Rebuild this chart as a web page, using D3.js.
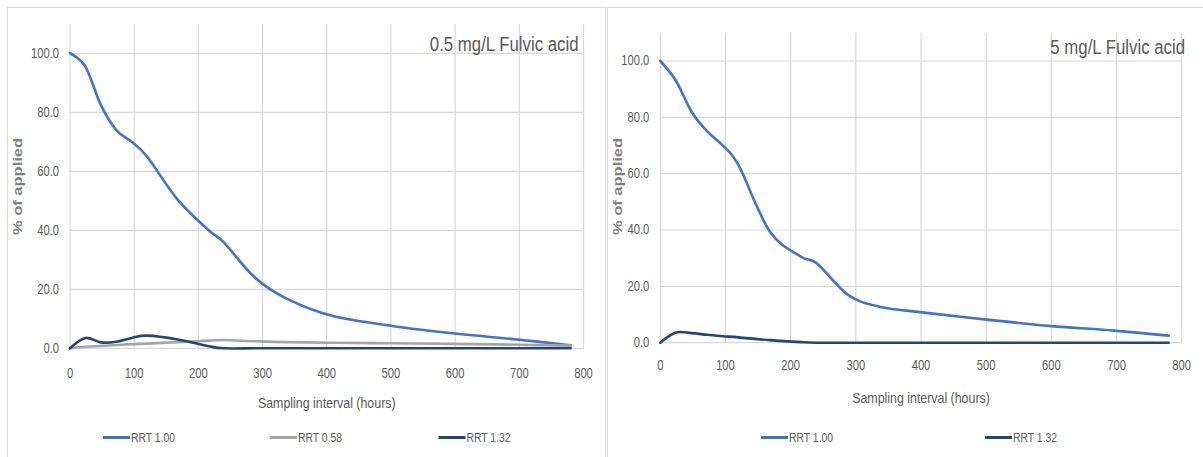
<!DOCTYPE html>
<html>
<head>
<meta charset="utf-8">
<script src="https://cdn.jsdelivr.net/npm/d3@7"></script>
<style>
  html, body { margin: 0; padding: 0; background: #fff; }
  svg { display: block; }
  .tick-label { font-family: "Liberation Sans", Arial, sans-serif; font-size: 14px; fill: #595959; }
  .axis-title { font-family: "Liberation Sans", Arial, sans-serif; font-size: 15.5px; fill: #595959; }
  .legend-label { font-family: "Liberation Sans", Arial, sans-serif; font-size: 13px; fill: #595959; }
  .panel-title { font-family: "Liberation Sans", Arial, sans-serif; font-size: 21px; fill: #595959; }
  .y-title { font-family: "Liberation Sans", Arial, sans-serif; font-size: 16.5px; font-weight: bold; fill: #808080; }
</style>
</head>
<body>
<svg id="chart" width="1203" height="457"></svg>
<script>
// Sampling times (hours)
const hours = [0, 24, 48, 72, 96, 120, 168, 216, 240, 288, 336, 408, 504, 600, 696, 780];

// 0.5 mg/L fulvic acid, % of applied
const lowRRT100 = [100, 95.5, 82.5, 74, 70, 65, 50.3, 40, 35.8, 24, 17, 11, 7.5, 5, 3, 1];
const lowRRT058 = [0, 0.5, 0.8, 1.1, 1.4, 1.6, 2.1, 2.6, 2.8, 2.4, 2.1, 1.9, 1.7, 1.5, 1.2, 0.9];
const lowRRT132 = [0, 3.5, 2.0, 2.2, 3.5, 4.3, 3.0, 0.7, 0, 0, 0, 0, 0, 0, 0, 0];

// 5 mg/L fulvic acid, % of applied
const highRRT100 = [100, 93, 82, 75, 70, 63, 39.5, 30.5, 28.2, 17, 12.8, 10.6, 8.1, 5.9, 4.3, 2.5];
const highRRT132 = [0, 3.6, 3.4, 2.8, 2.3, 1.9, 0.9, 0.2, 0, 0, 0, 0, 0, 0, 0, 0];

const xTicks = [0, 100, 200, 300, 400, 500, 600, 700, 800];
const yTicks = [0, 20, 40, 60, 80, 100];

const seriesColors = { "RRT 1.00": "#4472C4", "RRT 0.58": "#A5A5A5", "RRT 1.32": "#264478" };

// condensed text face: horizontal squeeze applied to every label
const SQUEEZE = 0.8;

const panels = [
  {
    title: "0.5 mg/L Fulvic acid",
    series: [["RRT 1.00", lowRRT100], ["RRT 0.58", lowRRT058], ["RRT 1.32", lowRRT132]],
    frame: { x: 7.5, y: 7.5, w: 598, h: 470 },
    plot: { x0: 70, x1: 583.5, y0: 348.3, y100: 53.3 },
    titlePos: { x: 578.5, y: 43.5 },
    xLabelDy: 25, xTitleY: 402, yTitleX: 18,
    legendY: 437.5,
    legendX: [103, 270, 438.5]
  },
  {
    title: "5 mg/L Fulvic acid",
    series: [["RRT 1.00", highRRT100], ["RRT 1.32", highRRT132]],
    frame: { x: 607.5, y: 7.5, w: 620, h: 470 },
    plot: { x0: 660.3, x1: 1181.7, y0: 342.7, y100: 61 },
    titlePos: { x: 1185, y: 47 },
    xLabelDy: 23, xTitleY: 397, yTitleX: 618,
    legendY: 437.5,
    legendX: [761, 985]
  }
];

const svg = d3.select("#chart");

function squeezed(sel, xf, yf) {
  return sel.attr("x", 0).attr("y", 0)
    .attr("transform", (d, i) => `translate(${xf(d, i)},${yf(d, i)}) scale(${SQUEEZE},1)`);
}

panels.forEach(p => {
  const g = svg.append("g");

  // panel frame
  g.append("rect")
    .attr("x", p.frame.x).attr("y", p.frame.y)
    .attr("width", p.frame.w).attr("height", p.frame.h)
    .attr("fill", "#fff").attr("stroke", "#D9D9D9").attr("stroke-width", 1);

  const x = d3.scaleLinear().domain([0, 800]).range([p.plot.x0, p.plot.x1]);
  const y = d3.scaleLinear().domain([0, 100]).range([p.plot.y0, p.plot.y100]);
  const yTop = y(110);

  // gridlines
  g.append("g").selectAll("line").data(yTicks).join("line")
    .attr("x1", x(0)).attr("x2", x(800))
    .attr("y1", d => y(d)).attr("y2", d => y(d))
    .attr("stroke", "#D9D9D9").attr("stroke-width", 1.2);
  g.append("g").selectAll("line").data(xTicks).join("line")
    .attr("x1", d => x(d)).attr("x2", d => x(d))
    .attr("y1", yTop).attr("y2", y(0))
    .attr("stroke", "#D9D9D9").attr("stroke-width", 1.2);

  // axis labels
  squeezed(g.append("g").selectAll("text").data(yTicks).join("text"),
      () => x(0) - 11, d => y(d))
    .attr("class", "tick-label")
    .attr("text-anchor", "end").attr("dominant-baseline", "central")
    .text(d => d.toFixed(1));
  squeezed(g.append("g").selectAll("text").data(xTicks).join("text"),
      d => x(d), () => y(0) + p.xLabelDy)
    .attr("class", "tick-label")
    .attr("text-anchor", "middle").attr("dominant-baseline", "central")
    .text(d => d);

  squeezed(g.append("text"), () => (x(0) + x(800)) / 2, () => p.xTitleY)
    .attr("class", "axis-title")
    .attr("text-anchor", "middle").attr("dominant-baseline", "central")
    .text("Sampling interval (hours)");

  g.append("text").attr("class", "y-title")
    .attr("transform", `translate(${p.yTitleX},${186.5}) scale(0.75,1) rotate(-90)`)
    .attr("text-anchor", "middle").attr("dominant-baseline", "central")
    .text("% of applied");

  // series
  const line = d3.line()
    .x((d, i) => x(hours[i]))
    .y(d => y(d))
    .curve(d3.curveCardinal.tension(0));

  p.series.forEach(([name, vals]) => {
    g.append("path")
      .datum(vals)
      .attr("d", line)
      .attr("fill", "none")
      .attr("stroke", seriesColors[name])
      .attr("stroke-width", 2.6)
      .attr("stroke-linejoin", "round")
      .attr("stroke-linecap", "round");
  });

  // panel title
  squeezed(g.append("text"), () => p.titlePos.x, () => p.titlePos.y)
    .attr("class", "panel-title")
    .attr("text-anchor", "end").attr("dominant-baseline", "central")
    .text(p.title);

  // legend
  p.series.forEach(([name], i) => {
    const lx = p.legendX[i];
    g.append("line")
      .attr("x1", lx).attr("x2", lx + 27)
      .attr("y1", p.legendY).attr("y2", p.legendY)
      .attr("stroke", seriesColors[name]).attr("stroke-width", 3);
    squeezed(g.append("text"), () => lx + 28, () => p.legendY)
      .attr("class", "legend-label")
      .attr("dominant-baseline", "central")
      .text(name);
  });
});
</script>
</body>
</html>
